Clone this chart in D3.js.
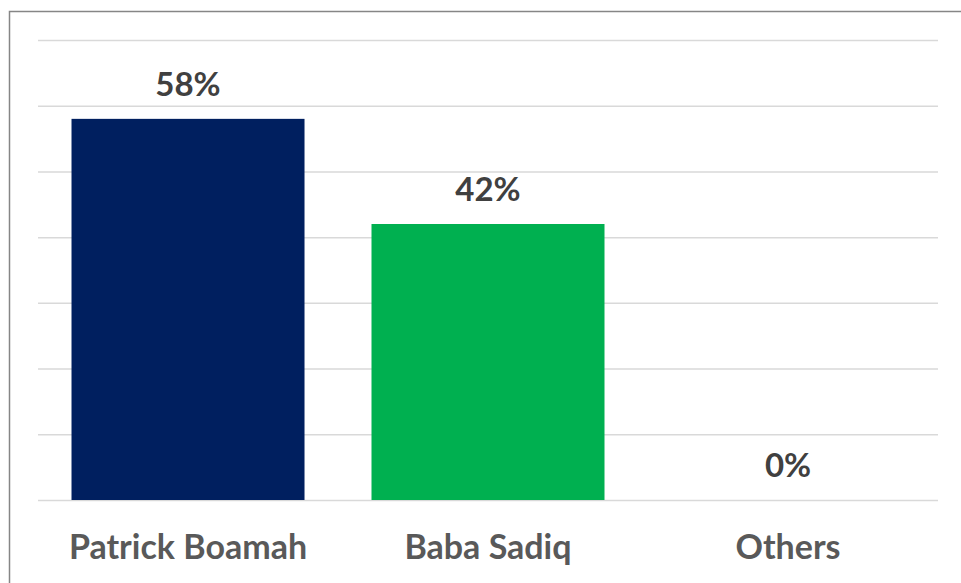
<!DOCTYPE html>
<html>
<head>
<meta charset="utf-8">
<script src="https://cdn.jsdelivr.net/npm/d3@7"></script>
<style>
  body { margin: 0; background: #fff; }
  svg { display: block; }
</style>
</head>
<body>
<svg id="chart"></svg>
<script>
// data
const categories = ['Patrick Boamah', 'Baba Sadiq', 'Others'];
const shares = [58, 42, 0];
const barColors = ['#001f5f', '#00b050', '#a5a5a5'];
const yTicks = [0, 10, 20, 30, 40, 50, 60, 70];

const width = 961, height = 583;
const margin = { top: 40, right: 23, bottom: 83, left: 38 };

const svg = d3.select('#chart')
    .attr('width', width)
    .attr('height', height);

// chart border (runs off the right and bottom edge)
svg.append('rect')
    .attr('x', 9.5).attr('y', 11.5)
    .attr('width', 980).attr('height', 600)
    .attr('fill', 'none')
    .attr('stroke', '#868686')
    .attr('stroke-width', 1.5);

const xScale = d3.scaleBand()
    .domain(categories)
    .range([margin.left, width - margin.right])
    .paddingInner(0.2233)
    .paddingOuter(0.1117);

const yScale = d3.scaleLinear()
    .domain([0, 70])
    .range([height - margin.bottom, margin.top]);

// gridlines
const yAxis = d3.axisLeft(yScale)
    .tickValues(yTicks)
    .tickSize(-(width - margin.right - margin.left))
    .tickFormat('');
const yAxisG = svg.append('g')
    .attr('transform', `translate(${margin.left},0)`)
    .call(yAxis);
yAxisG.select('.domain').remove();
yAxisG.selectAll('.tick line')
    .attr('stroke', '#d9d9d9')
    .attr('stroke-width', 1.5);

const rows = categories.map((c, i) => ({ key: c, value: shares[i], color: barColors[i] }));

svg.selectAll('.bar')
    .data(rows)
    .enter()
    .append('rect')
    .attr('class', 'bar')
    .attr('x', d => xScale(d.key))
    .attr('y', d => yScale(d.value))
    .attr('width', xScale.bandwidth())
    .attr('height', d => yScale(0) - yScale(d.value))
    .attr('fill', d => d.color);

// value labels
svg.selectAll('.val')
    .data(rows)
    .enter()
    .append('text')
    .attr('class', 'val')
    .attr('x', d => xScale(d.key) + xScale.bandwidth() / 2)
    .attr('y', d => yScale(d.value) - 23)
    .attr('text-anchor', 'middle')
    .style('font-family', 'Lato, sans-serif')
    .style('font-weight', 'bold')
    .style('font-size', '33px')
    .style('fill', '#404040')
    .text(d => d.value + '%');

// category labels
const xAxis = d3.axisBottom(xScale).tickSize(0).tickPadding(0);
const xAxisG = svg.append('g')
    .attr('transform', `translate(0,${yScale(0)})`)
    .call(xAxis);
xAxisG.select('.domain').remove();
xAxisG.selectAll('.tick text')
    .attr('y', 59)
    .attr('dy', 0)
    .style('font-family', 'Lato, sans-serif')
    .style('font-weight', 'bold')
    .style('font-size', '34px')
    .style('fill', '#595959');
</script>
</body>
</html>
